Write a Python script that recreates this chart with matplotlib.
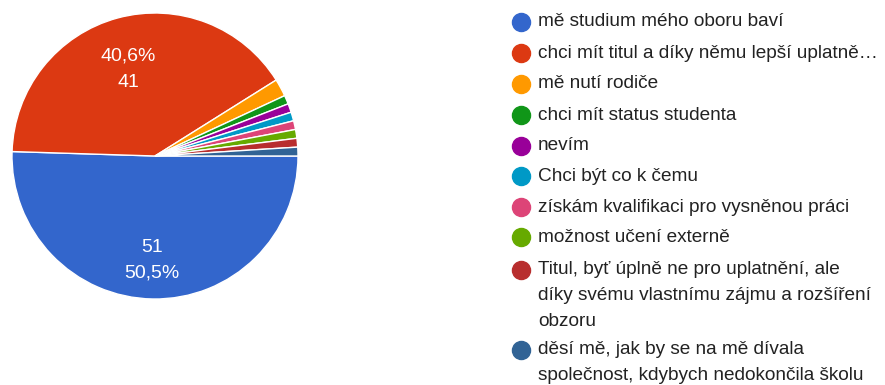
import numpy as np
import matplotlib
matplotlib.use("Agg")
import matplotlib.pyplot as plt

plt.rcParams['font.family'] = ['Liberation Sans', 'DejaVu Sans']

categories = [
    "mě studium mého oboru baví",
    "chci mít titul a díky němu lepší uplatně…",
    "mě nutí rodiče",
    "chci mít status studenta",
    "nevím",
    "Chci být co k čemu",
    "získám kvalifikaci pro vysněnou práci",
    "možnost učení externě",
    "Titul, byť úplně ne pro uplatnění, ale\ndíky svému vlastnímu zájmu a rozšíření\nobzoru",
    "děsí mě, jak by se na mě dívala\nspolečnost, kdybych nedokončila školu",
]
counts = [51, 41, 2, 1, 1, 1, 1, 1, 1, 1]
colors = ["#3366cc", "#dc3912", "#ff9900", "#109618", "#990099",
          "#0099c6", "#dd4477", "#66aa00", "#b82e2e", "#316395"]

W, H = 885, 385
fig = plt.figure(figsize=(W / 100, H / 100), dpi=100)

# pie placement in pixels
cx, cy, r = 155, 156, 143
ax = fig.add_axes([(cx - r) / W, (H - cy - r) / H, 2 * r / W, 2 * r / H])
wedges, _ = ax.pie(counts, colors=colors, startangle=0, counterclock=False,
                   radius=1.0, wedgeprops=dict(edgecolor="white", linewidth=1.0))
ax.set_xlim(-1, 1)
ax.set_ylim(-1, 1)
ax.set_aspect("equal")
ax.axis("off")

total = sum(counts)
for i, w in enumerate(wedges[:2]):
    mid = np.deg2rad((w.theta1 + w.theta2) / 2)
    pct = f"{counts[i] / total * 100:.1f}".replace(".", ",") + "%"
    txt = f"{counts[i]}\n{pct}" if i == 0 else f"{pct}\n{counts[i]}"
    d = 0.68
    ax.text(d * np.cos(mid) - 0.01, d * np.sin(mid) - 0.05, txt, ha="center",
            va="center", color="white", fontsize=14, linespacing=1.7)

# legend
lx_dot, lx_txt = 521, 538
ys = [22, 53, 84, 115, 146, 176, 207, 237, 270, 350]
line_h = 26
for c, lab, y in zip(colors, categories, ys):
    fig.add_artist(plt.Line2D([lx_dot / W], [(H - y) / H], marker="o",
                              markersize=13, color=c, linestyle="none",
                              transform=fig.transFigure))
    for k, line in enumerate(lab.split("\n")):
        fig.text(lx_txt / W, (H - y - k * line_h) / H, line, ha="left",
                 va="center", fontsize=13.7, color="#222222")

fig.savefig("out.png", dpi=100, facecolor="white")
